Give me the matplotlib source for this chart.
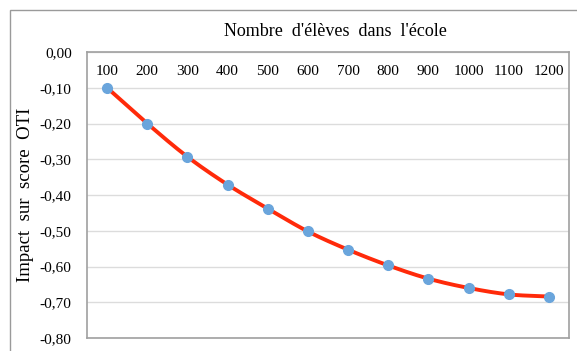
import numpy as np
import matplotlib.pyplot as plt
from matplotlib.patches import Rectangle
from matplotlib.ticker import FuncFormatter

# data
eleves = [100, 200, 300, 400, 500, 600, 700, 800, 900, 1000, 1100, 1200]
impact = [-0.100, -0.200, -0.293, -0.371, -0.438, -0.502, -0.553, -0.597, -0.634, -0.660, -0.678, -0.684]
y_ticks = [0.0, -0.1, -0.2, -0.3, -0.4, -0.5, -0.6, -0.7, -0.8]


def smooth(x, y, n=20):
    # Catmull-Rom curve through the points (like Excel "smoothed line")
    x = np.asarray(x, float)
    y = np.asarray(y, float)
    px = np.concatenate([[2 * x[0] - x[1]], x, [2 * x[-1] - x[-2]]])
    py = np.concatenate([[2 * y[0] - y[1]], y, [2 * y[-1] - y[-2]]])
    xs, ys = [], []
    t = np.linspace(0, 1, n, endpoint=False)
    for i in range(1, len(px) - 2):
        for p, out in ((px, xs), (py, ys)):
            p0, p1, p2, p3 = p[i - 1], p[i], p[i + 1], p[i + 2]
            out.extend(0.5 * (2 * p1 + (-p0 + p2) * t + (2 * p0 - 5 * p1 + 4 * p2 - p3) * t ** 2
                              + (-p0 + 3 * p1 - 3 * p2 + p3) * t ** 3))
    xs.append(x[-1])
    ys.append(y[-1])
    return np.array(xs), np.array(ys)


plt.rcParams['font.family'] = ['Liberation Serif', 'DejaVu Serif']

W, H = 577, 351
fig = plt.figure(figsize=(W / 100, H / 100), dpi=100)
ax = fig.add_axes([87 / W, 1 - 338 / H, (569 - 87) / W, (338 - 52) / H])

# outer chart frame
fig.patches.append(Rectangle((10 / W, -0.05), 1.2, 1 - 10 / H + 0.05, transform=fig.transFigure,
                             fill=False, edgecolor='#9a9a9a', linewidth=1.0))

pos = np.arange(1, len(eleves) + 1)
sx, sy = smooth(pos, impact)
ax.plot(sx, sy, color='#ff2a0a', linewidth=2.8, solid_capstyle='round', zorder=3)
ax.plot(pos, impact, 'o', color='#6aa5dc', markersize=7, zorder=4)

ax.set_xlim(0.5, len(eleves) + 0.5)
ax.set_ylim(-0.8, 0.0)
ax.set_yticks(y_ticks)
ax.yaxis.set_major_formatter(FuncFormatter(lambda v, p: f'{v:.2f}'.replace('.', ',').replace('-0,00', '0,00')))
ax.set_xticks(pos)
ax.set_xticklabels([str(e) for e in eleves])
ax.xaxis.tick_top()
ax.tick_params(axis='x', length=0, pad=-19, labelsize=11)
ax.tick_params(axis='y', length=0, pad=11, labelsize=11)
ax.grid(axis='y', color='#dcdcdc', linewidth=1.0)
ax.set_axisbelow(True)
for s in ax.spines.values():
    s.set_color('#a0a0a0')
    s.set_linewidth(1.2)

ax.set_ylabel('Impact  sur  score  OTI', fontsize=13.5, labelpad=4)
fig.text(335 / W, 1 - 32 / H, "Nombre  d'élèves  dans  l'école", ha='center', va='center', fontsize=13)

plt.savefig('out.png', dpi=100)
